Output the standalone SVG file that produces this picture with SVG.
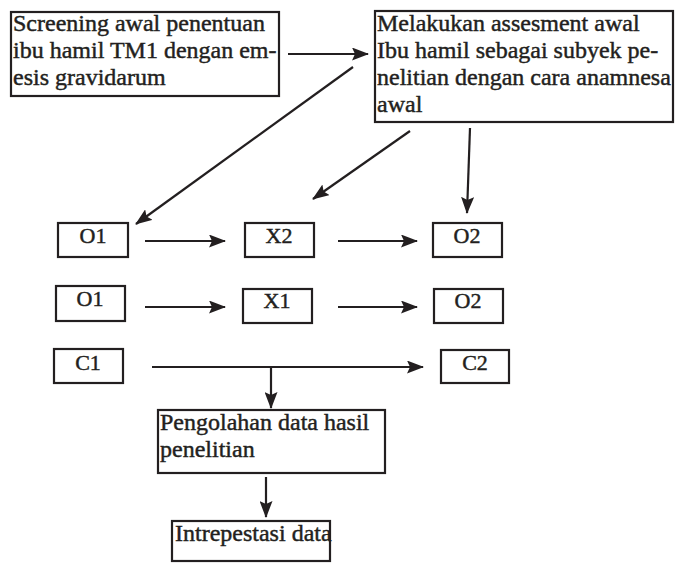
<svg xmlns="http://www.w3.org/2000/svg" width="676" height="563" viewBox="0 0 676 563">
<defs>
<marker id="ah" markerUnits="userSpaceOnUse" markerWidth="17" markerHeight="13" refX="16" refY="6.5" orient="auto" viewBox="0 0 17 13">
<path d="M0,0 L17,6.5 L0,13 L3,6.5 z" fill="#231f20"/>
</marker>
<style>
.box{fill:#fff;stroke:#231f20;stroke-width:2.2}
.t{font-family:"Liberation Serif","Times New Roman",serif;font-size:24px;fill:#231f20;stroke:#231f20;stroke-width:0.45}
.s{font-family:"Liberation Serif","Times New Roman",serif;font-size:22px;fill:#231f20;stroke:#231f20;stroke-width:0.45;text-anchor:middle}
.c{stroke:#231f20;stroke-width:2.2;fill:none}
.a{marker-end:url(#ah)}
</style>
</defs>
<rect width="676" height="563" fill="#fff"/>
<g id="screening">
<rect class="box" x="11" y="12" width="268" height="84"/>
<text class="t" x="13" y="31">Screening awal penentuan</text>
<text class="t" x="13" y="58">ibu hamil TM1 dengan em-</text>
<text class="t" x="13" y="85">esis gravidarum</text>
</g>
<g id="assesment">
<rect class="box" x="375" y="11" width="298" height="111"/>
<text class="t" x="377" y="31">Melakukan assesment awal</text>
<text class="t" x="377" y="58">Ibu hamil sebagai subyek pe-</text>
<text class="t" x="377" y="85">nelitian dengan cara anamnesa</text>
<text class="t" x="377" y="112">awal</text>
</g>
<g id="o1a"><rect class="box" x="58" y="223" width="70" height="34"/><text class="s" x="93" y="243">O1</text></g>
<g id="x2"><rect class="box" x="245" y="223" width="69" height="34"/><text class="s" x="279" y="243">X2</text></g>
<g id="o2a"><rect class="box" x="433" y="223" width="69" height="34"/><text class="s" x="467" y="243">O2</text></g>
<g id="o1b"><rect class="box" x="56" y="286" width="69" height="35"/><text class="s" x="90" y="306">O1</text></g>
<g id="x1"><rect class="box" x="243" y="289" width="69" height="34"/><text class="s" x="277" y="308">X1</text></g>
<g id="o2b"><rect class="box" x="434" y="289" width="69" height="34"/><text class="s" x="468" y="308">O2</text></g>
<g id="c1"><rect class="box" x="54" y="349" width="69" height="34"/><text class="s" x="88" y="370">C1</text></g>
<g id="c2"><rect class="box" x="441" y="350" width="68" height="33"/><text class="s" x="475" y="370">C2</text></g>
<g id="pengolahan">
<rect class="box" x="158" y="410" width="227" height="63"/>
<text class="t" x="160" y="430">Pengolahan data hasil</text>
<text class="t" x="160" y="457">penelitian</text>
</g>
<g id="intrepestasi">
<rect class="box" x="172" y="521" width="158" height="40"/>
<text class="t" x="175" y="541">Intrepestasi data</text>
</g>
<g id="connectors">
<line class="c a" x1="288" y1="54" x2="368" y2="54"/>
<line class="c a" x1="353" y1="67" x2="136" y2="224"/>
<line class="c a" x1="410" y1="131" x2="313" y2="199"/>
<line class="c a" x1="470" y1="128" x2="467" y2="213"/>
<line class="c a" x1="145" y1="241" x2="225" y2="241"/>
<line class="c a" x1="338" y1="241" x2="417" y2="241"/>
<line class="c a" x1="145" y1="307" x2="225" y2="307"/>
<line class="c a" x1="338" y1="307" x2="417" y2="307"/>
<line class="c a" x1="152" y1="367" x2="423" y2="367"/>
<line class="c a" x1="271" y1="367" x2="271" y2="408"/>
<line class="c a" x1="266" y1="477" x2="266" y2="517"/>
</g>
</svg>
